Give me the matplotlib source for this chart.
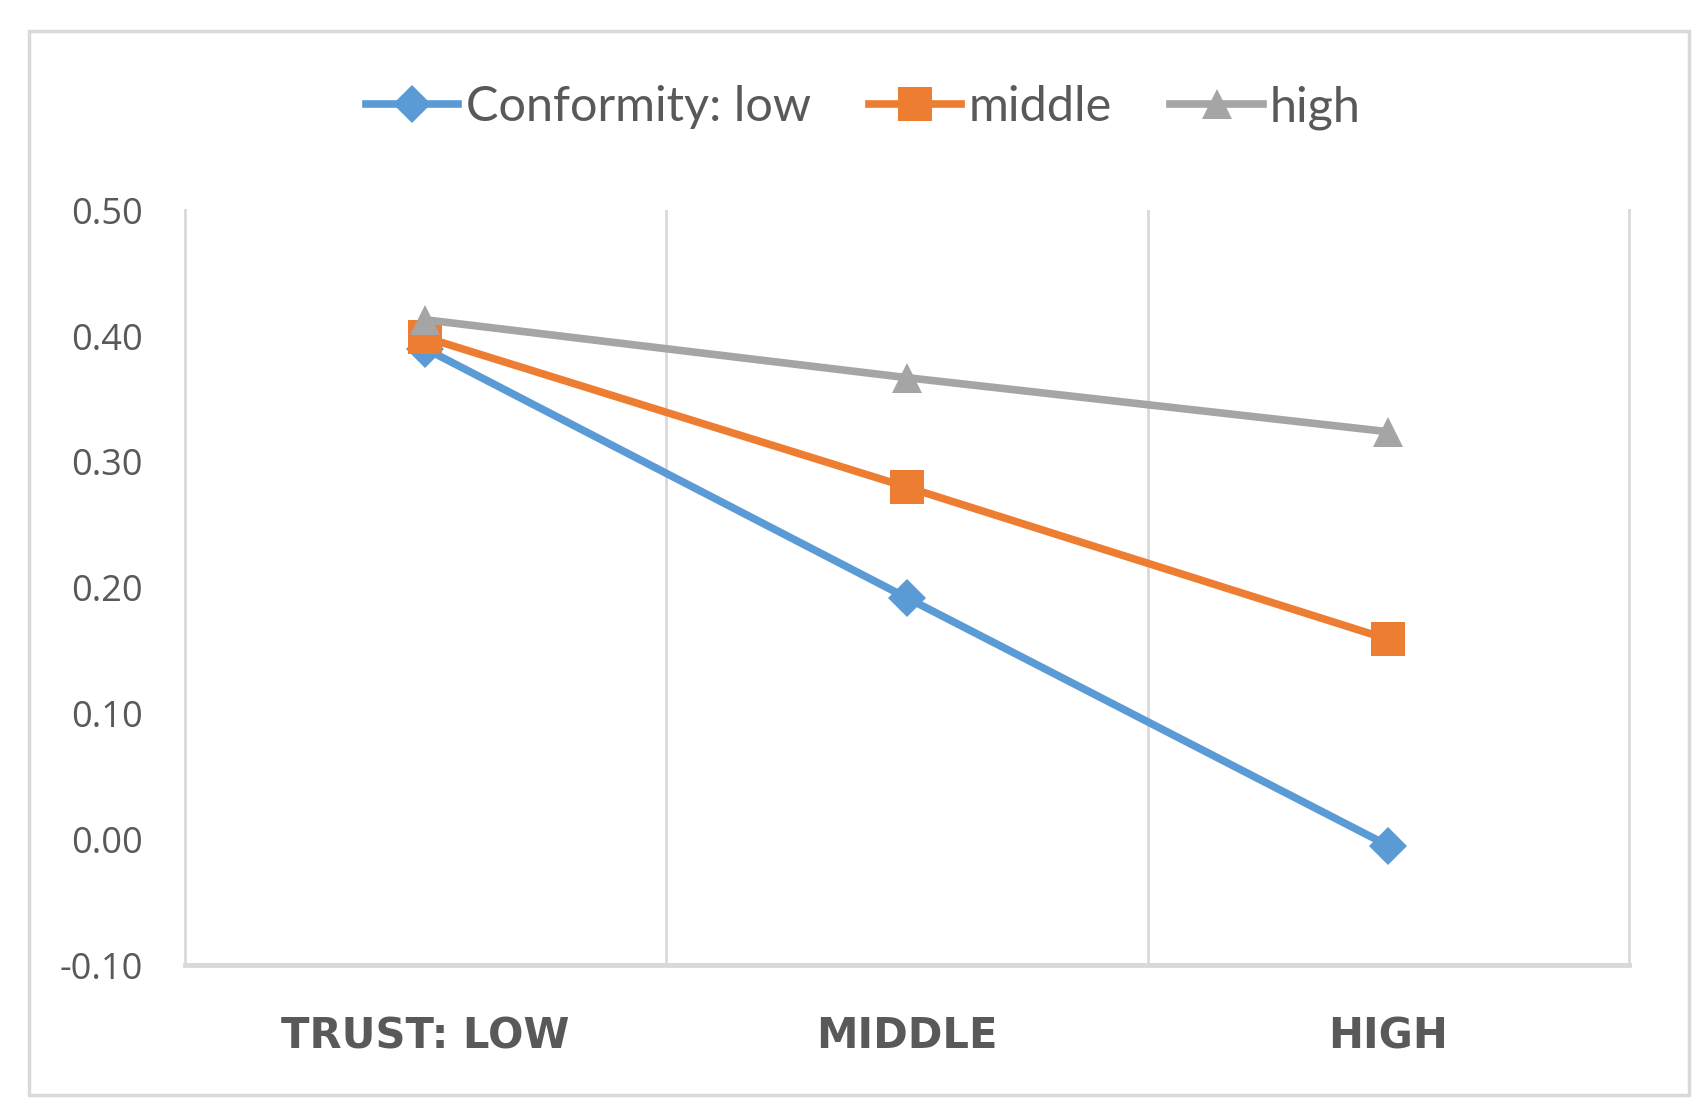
import matplotlib
matplotlib.use('Agg')
from matplotlib import pyplot as plt
from matplotlib.patches import Rectangle
import numpy as np

# Categories and series
categories = ['TRUST: LOW', 'MIDDLE', 'HIGH']
series_names = ['Conformity: low', 'middle', 'high']
conf_low = [0.390, 0.192, -0.005]
conf_middle = [0.399, 0.280, 0.159]
conf_high = [0.413, 0.367, 0.324]
y_ticks = [-0.10, 0.00, 0.10, 0.20, 0.30, 0.40, 0.50]

colors = ['#5B9BD5', '#ED7D31', '#A5A5A5']
markers = ['D', 's', '^']
msizes = [19, 25, 22]
grid_col = '#D9D9D9'
text_col = '#595959'

fig = plt.figure(figsize=(17.03, 11.10), dpi=100)
ax = fig.add_axes([0.1085, 0.1305, 0.848, 0.680])

# outer chart border
fig.patches.append(Rectangle((0.017, 0.0135), 0.9748, 0.9585, transform=fig.transFigure,
                             fill=False, edgecolor=grid_col, linewidth=2.5))

x = np.arange(len(categories))
for vals, name, c, m, ms in zip([conf_low, conf_middle, conf_high], series_names, colors, markers, msizes):
    ax.plot(x, vals, color=c, linewidth=5.5, marker=m, markersize=ms,
            markeredgewidth=0, label=name, zorder=3)

ax.set_xlim(-0.5, len(categories) - 0.5)
ax.set_ylim(-0.10, 0.50)
ax.set_yticks(y_ticks)
ax.set_yticklabels(['{:.2f}'.format(v) for v in y_ticks], fontsize=26, color=text_col,
                   family='Open Sans')
ax.set_xticks(x)
ax.set_xticklabels(categories, fontsize=30, color=text_col, fontweight='bold',
                   family='DejaVu Sans')
ax.tick_params(axis='both', length=0)
ax.tick_params(axis='x', pad=36)
ax.tick_params(axis='y', pad=30)

# vertical gridlines between categories
for b in np.arange(0.5, len(categories) - 0.5):
    ax.axvline(b, color=grid_col, linewidth=2, zorder=1)

for s in ['left', 'right']:
    ax.spines[s].set_color(grid_col)
    ax.spines[s].set_linewidth(2)
ax.spines['top'].set_visible(False)
ax.spines['bottom'].set_color(grid_col)
ax.spines['bottom'].set_linewidth(3.5)

leg = fig.legend(loc='center', bbox_to_anchor=(0.507, 0.903), ncol=3, frameon=False,
                 handlelength=1.9, handletextpad=0.15, columnspacing=1.2,
                 prop={'family': 'Lato', 'size': 35})
for t in leg.get_texts():
    t.set_color(text_col)

plt.savefig('out.png', dpi=100)
